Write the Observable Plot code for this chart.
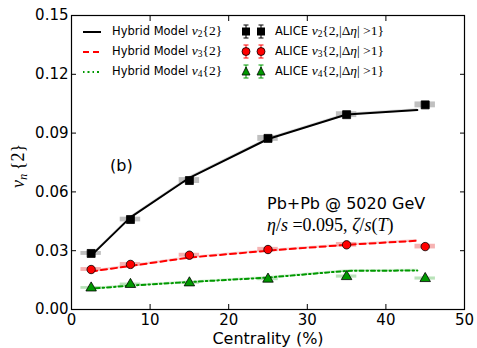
<!DOCTYPE html>
<html><head><meta charset="utf-8">
<script src="https://cdn.jsdelivr.net/npm/d3@7"></script>
<script src="https://cdn.jsdelivr.net/npm/@observablehq/plot@0.6"></script>
<style>
body{margin:0;background:#fff;}
#wrap{position:relative;width:477px;height:348px;font-family:"DejaVu Sans",sans-serif;}
.ov{position:absolute;white-space:nowrap;color:#000;}
.m{font-family:"Liberation Serif",serif;}
.m i{font-style:italic;}
.m sub{font-size:0.7em;vertical-align:-0.25em;line-height:0;}
.lm{font-size:13.5px;}
</style>
</head><body>
<div id="wrap"></div>
<script>
const centrality = [2.5, 7.5, 15, 25, 35, 45];
// ALICE data
const aliceV2 = [0.0286, 0.0459, 0.0658, 0.0873, 0.0994, 0.1044];
const aliceV3 = [0.0204, 0.0230, 0.0277, 0.0306, 0.0330, 0.0321];
const aliceV4 = [0.0110, 0.0128, 0.0136, 0.0155, 0.0168, 0.0158];
const statErr = [0.0004, 0.0004, 0.0004, 0.0005, 0.0006, 0.0008];
const sysV2 = [0.0010, 0.0012, 0.0015, 0.0015, 0.0015, 0.0015];
const sysV3 = [0.0010, 0.0010, 0.0010, 0.0011, 0.0012, 0.0012];
const sysV4 = [0.0007, 0.0007, 0.0007, 0.0008, 0.0008, 0.0008];
const sysHalfWidth = 1.3;
// Hybrid model
const modelX = [2.5, 7.5, 15, 25, 35, 44];
const modelV2 = [0.0275, 0.0470, 0.0672, 0.0870, 0.0995, 0.1018];
const modelV3 = [0.0194, 0.0222, 0.0265, 0.0300, 0.0330, 0.0351];
const modelV4 = [0.0106, 0.0122, 0.0140, 0.0163, 0.0197, 0.0199];
const modelErr = [0.0006, 0.0006, 0.0006, 0.0006, 0.0006, 0.0006];
const xTicks = [0, 10, 20, 30, 40, 50];
const yTicks = [0.00, 0.03, 0.06, 0.09, 0.12, 0.15];

const series = [
  {n: 2, data: aliceV2, sys: sysV2, model: modelV2, color: "#000000", band: "#b0b0b0", symbol: "square", dash: null},
  {n: 3, data: aliceV3, sys: sysV3, model: modelV3, color: "#ff0000", band: "#f4a0a0", symbol: "circle", dash: "6,4"},
  {n: 4, data: aliceV4, sys: sysV4, model: modelV4, color: "#009900", band: "#a8dca8", symbol: "triangle", dash: "1.5,3,4,3"}
];
const markerFill = {2: "#000000", 3: "#ff0000", 4: "#009900"};

const pts = [], bands = [], mdl = [];
for (const s of series) {
  centrality.forEach((c, i) => {
    pts.push({n: s.n, x: c, y: s.data[i], e: statErr[i], sym: s.symbol, fill: markerFill[s.n]});
    bands.push({n: s.n, x1: c - sysHalfWidth, x2: c + sysHalfWidth, y1: s.data[i] - s.sys[i], y2: s.data[i] + s.sys[i], fill: s.band});
  });
  modelX.forEach((c, i) => mdl.push({n: s.n, x: c, y: s.model[i], lo: s.model[i] - modelErr[i], hi: s.model[i] + modelErr[i]}));
}

const marks = [];
marks.push(Plot.rect(bands, {x1: "x1", x2: "x2", y1: "y1", y2: "y2", fill: d => d.fill, fillOpacity: 0.8}));
for (const s of series) {
  const md = mdl.filter(d => d.n === s.n);
  marks.push(Plot.areaY(md, {x: "x", y1: "lo", y2: "hi", fill: s.band, fillOpacity: 0.5}));
  marks.push(Plot.line(md, {x: "x", y: "y", stroke: s.color, strokeWidth: 2, strokeDasharray: s.dash}));
}
marks.push(Plot.ruleX(pts, {x: "x", y1: d => d.y - d.e, y2: d => d.y + d.e, stroke: d => d.fill, strokeWidth: 1}));
for (const s of series) {
  const p = pts.filter(d => d.n === s.n);
  marks.push(Plot.dot(p, {x: "x", y: "y", symbol: s.symbol, r: s.symbol === "circle" ? 4.2 : (s.symbol === "triangle" ? 3.9 : 4.5), fill: markerFill[s.n], stroke: "#000", strokeWidth: 0.8}));
}
marks.push(Plot.axisX({anchor: "bottom", ticks: xTicks, tickSize: -5, tickPadding: 10, fontSize: 15, label: null}));
marks.push(Plot.axisX({anchor: "top", ticks: xTicks, tickSize: -5, tickFormat: () => "", label: null}));
marks.push(Plot.axisY({anchor: "left", ticks: yTicks, tickSize: -5, tickPadding: 8, tickFormat: d3.format(".2f"), fontSize: 15, label: null}));
marks.push(Plot.axisY({anchor: "right", ticks: yTicks, tickSize: -5, tickFormat: () => "", label: null}));
marks.push(Plot.frame({stroke: "#000", strokeWidth: 1.2}));

const chart = Plot.plot({
  width: 477, height: 348,
  marginLeft: 71, marginRight: 13, marginTop: 15, marginBottom: 39,
  x: {domain: [0, 50]},
  y: {domain: [0, 0.15]},
  style: {fontFamily: "DejaVu Sans, sans-serif", color: "#000", background: "#fff", overflow: "visible"},
  marks
});
const wrap = document.getElementById("wrap");
chart.style.position = "absolute"; chart.style.left = "0"; chart.style.top = "0";
wrap.appendChild(chart);

function ov(html, style) {
  const d = document.createElement("div");
  d.className = "ov"; d.innerHTML = html;
  Object.assign(d.style, style);
  wrap.appendChild(d);
  return d;
}
ov("Centrality (%)", {left: "0", width: "536px", textAlign: "center", top: "331px", fontSize: "16px", lineHeight: "16px"});
ov('<span class="m"><i>v</i><sub><i>n</i></sub>&thinsp;{2}</span>', {left: "-12px", top: "155px", fontSize: "18px", transform: "rotate(-90deg)", width: "60px", textAlign: "center"});
ov("(b)", {left: "110px", top: "156px", fontSize: "16px"});
ov("Pb+Pb @ 5020 GeV", {left: "267px", top: "194px", fontSize: "16px"});
ov('<span class="m"><i>η</i>/<i>s</i> =0.095, <i>ζ</i>/<i>s</i>(<i>T</i>)</span>', {left: "267px", top: "214px", fontSize: "18px"});

const dashFor = {2: "", 3: "6,4", 4: "1.5,3,2,3"};
const legY = [32, 52, 72];
series.forEach((s, i) => {
  const y = legY[i];
  ov(`<svg width="20" height="6"><line x1="1" x2="19" y1="3" y2="3" stroke="${s.color}" stroke-width="2" stroke-dasharray="${dashFor[s.n]}"/></svg>`, {left: "82px", top: (y - 3) + "px", lineHeight: "0"});
  ov(`Hybrid Model <span class="m lm"><i>v</i><sub>${s.n}</sub>{2}</span>`, {left: "112px", top: (y - 9) + "px", fontSize: "11.5px"});
  let sym;
  if (s.symbol === "square") sym = '<rect x="3" y="4.5" width="8" height="8" fill="#000"/>';
  else if (s.symbol === "circle") sym = '<circle cx="7" cy="8.5" r="4" fill="#ff0000" stroke="#000" stroke-width="0.8"/>';
  else sym = '<path d="M7,4 L11,12 L3,12 Z" fill="#009900" stroke="#000" stroke-width="0.8"/>';
  const ebar = `<line x1="7" x2="7" y1="2" y2="15" stroke="${markerFill[s.n]}"/><line x1="4.5" x2="9.5" y1="2" y2="2" stroke="${markerFill[s.n]}"/><line x1="4.5" x2="9.5" y1="15" y2="15" stroke="${markerFill[s.n]}"/>`;
  const one = `<svg width="14" height="17" style="margin-right:1px">${ebar}${sym}</svg>`;
  ov(one + one, {left: "239px", top: (y - 9) + "px", lineHeight: "0"});
  ov(`ALICE <span class="m lm"><i>v</i><sub>${s.n}</sub>{2,|Δ<i>η</i>| &gt;1}</span>`, {left: "275px", top: (y - 9) + "px", fontSize: "11.5px"});
});
</script>
</body></html>
